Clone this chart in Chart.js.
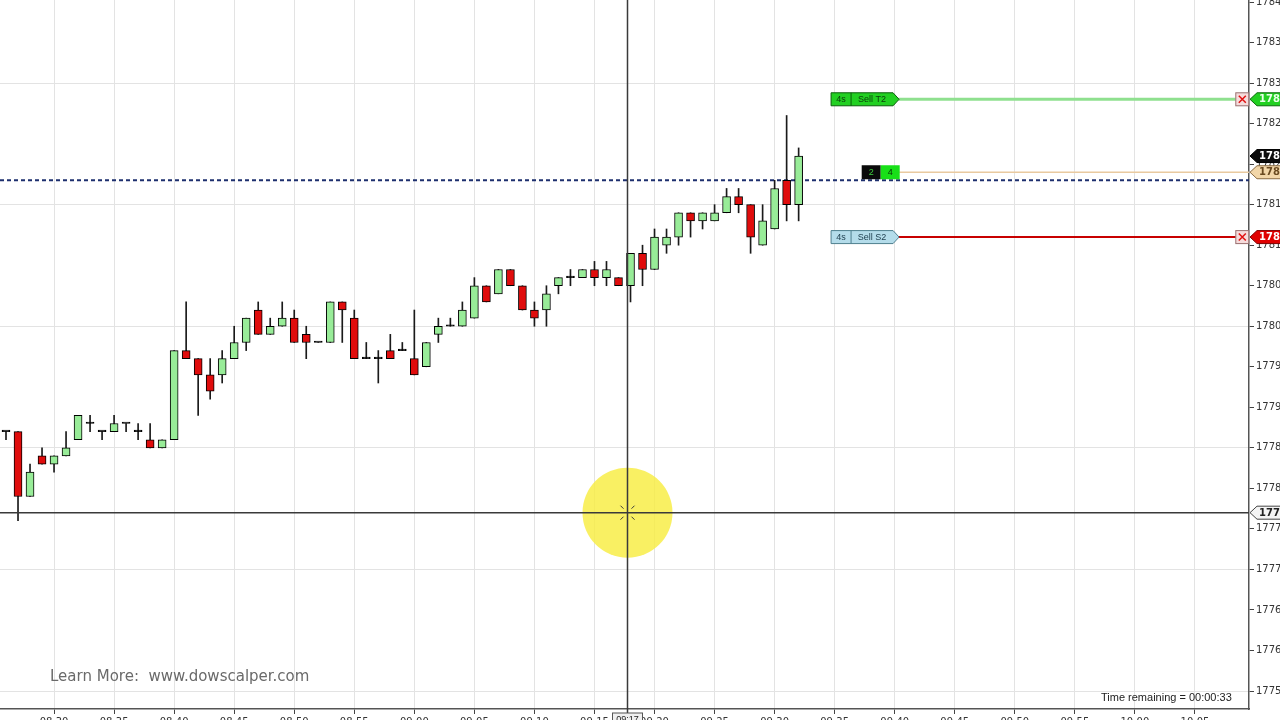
<!DOCTYPE html>
<html><head><meta charset="utf-8">
<script src="https://cdn.jsdelivr.net/npm/chart.js@4.4.1/dist/chart.umd.min.js"></script>
<style>
html,body{margin:0;padding:0;background:#fff;overflow:hidden;width:1280px;height:720px;}
#wrap{position:absolute;left:0;top:0;width:1300px;height:740px;}
canvas{display:block;}
</style></head><body>
<div id="wrap"><canvas id="c" width="1300" height="740"></canvas></div>
<script>
// ---- data (1-minute bars) ----
const opens  = [17787,17787,17779,17784,17783,17784,17786,17788,17787,17787,17788,17787,17786,17785,17786,17797,17796,17794,17794,17796,17798,17802,17799,17800,17801,17799,17798,17798,17803,17801,17796,17796,17797,17797,17796,17795,17799,17800,17800,17801,17805,17804,17807,17805,17802,17802,17805,17806,17806,17807,17806,17806,17805,17809,17807,17810,17811,17814,17813,17813,17814,17816,17815,17810,17812,17818,17815];
const highs  = [17787,17787,17783,17785,17784,17787,17789,17789,17787,17789,17788,17788,17788,17786,17797,17803,17796,17796,17797,17800,17801,17803,17801,17803,17802,17800,17798,17803,17803,17802,17798,17797,17799,17798,17802,17798,17801,17801,17803,17806,17805,17807,17807,17805,17803,17805,17806,17807,17807,17808,17808,17806,17809,17810,17812,17812,17814,17814,17814,17815,17817,17817,17815,17815,17818,17826,17822];
const lows   = [17786,17776,17779,17783,17782,17784,17786,17787,17786,17787,17787,17786,17785,17785,17786,17796,17789,17791,17793,17796,17797,17799,17799,17800,17798,17796,17798,17798,17798,17796,17796,17793,17796,17797,17794,17795,17798,17800,17800,17801,17803,17804,17805,17802,17800,17800,17804,17805,17806,17805,17805,17805,17803,17805,17807,17809,17810,17811,17812,17813,17814,17814,17809,17810,17812,17813,17813];
const closes = [17787,17779,17782,17783,17784,17785,17789,17788,17787,17788,17788,17787,17785,17786,17797,17796,17794,17792,17796,17798,17801,17799,17800,17801,17798,17798,17798,17803,17802,17796,17796,17796,17796,17797,17794,17798,17800,17800,17802,17805,17803,17807,17805,17802,17801,17804,17806,17806,17807,17806,17807,17805,17809,17807,17811,17811,17814,17813,17814,17814,17816,17815,17811,17813,17817,17815,17821];
const gridTimes = ["08:30","08:35","08:40","08:45","08:50","08:55","09:00","09:05","09:10","09:15","09:20","09:25","09:30","09:35","09:40","09:45","09:50","09:55","10:00","10:05"];
const slotCount = 104;
const yMin = 17752.78, yMax = 17840.25;
const yTickStep = 5, yGridStep = 15, yGridBase = 17755;
const targetPrice = 17828, entryPrice = 17819, stopPrice = 17811, dashedPrice = 17818, lastPrice = 17821, cursorPrice = 17777;
const cursorIndex = 51.75, cursorTime = "09:17";
const entryQty = "2", posQty = "4";
const targetLabel = ["4s","Sell T2"], stopLabel = ["4s","Sell S2"];

// categories: one slot per bar, time labels every 5 bars
const categories = [];
for (let i = 0; i < slotCount; i++) {
  const k = (i - 4) / 5;
  categories.push(Number.isInteger(k) && k >= 0 && k < gridTimes.length ? gridTimes[k] : '');
}
const bodies = opens.map((o, i) => [Math.min(o, closes[i]), Math.max(o, closes[i])]);
const wicks = lows.map((l, i) => [l, highs[i]]);
const bodyColors = opens.map((o, i) => closes[i] > o ? '#98ec98' : (closes[i] < o ? '#e00c0c' : '#000'));

function pentRight(ctx, x, y, w, h, tip) {
  ctx.beginPath();
  ctx.moveTo(x, y - h/2); ctx.lineTo(x + w, y - h/2); ctx.lineTo(x + w + tip, y);
  ctx.lineTo(x + w, y + h/2); ctx.lineTo(x, y + h/2); ctx.closePath();
}
function pentLeft(ctx, x, y, w, h, tip) {
  ctx.beginPath();
  ctx.moveTo(x, y); ctx.lineTo(x + tip, y - h/2); ctx.lineTo(x + w, y - h/2);
  ctx.lineTo(x + w, y + h/2); ctx.lineTo(x + tip, y + h/2); ctx.closePath();
}

const overlay = {
  id: 'overlay',
  beforeDatasetsDraw(chart) {
    const {ctx, chartArea: a, scales: {x, y}} = chart;
    ctx.save();
    const xs = x.getPixelForValue(74.3), xe = x.getPixelForValue(102.4);
    ctx.strokeStyle = '#8fe08f'; ctx.lineWidth = 3;
    ctx.beginPath(); ctx.moveTo(xs, y.getPixelForValue(targetPrice)); ctx.lineTo(xe, y.getPixelForValue(targetPrice)); ctx.stroke();
    ctx.strokeStyle = '#c80000'; ctx.lineWidth = 2;
    ctx.beginPath(); ctx.moveTo(xs, y.getPixelForValue(stopPrice)); ctx.lineTo(xe, y.getPixelForValue(stopPrice)); ctx.stroke();
    ctx.strokeStyle = '#e9caa0'; ctx.lineWidth = 1.5;
    ctx.beginPath(); ctx.moveTo(xs, y.getPixelForValue(entryPrice)); ctx.lineTo(a.right, y.getPixelForValue(entryPrice)); ctx.stroke();
    ctx.strokeStyle = '#1d2f6e'; ctx.lineWidth = 2; ctx.setLineDash([4, 3]);
    const yd = y.getPixelForValue(dashedPrice);
    ctx.beginPath(); ctx.moveTo(a.left, yd); ctx.lineTo(a.right, yd); ctx.stroke();
    ctx.restore();
  },
  afterDatasetsDraw(chart) {
    const {ctx, chartArea: a, scales: {x, y}} = chart;
    ctx.save();
    const cx = x.getPixelForValue(cursorIndex), cy = y.getPixelForValue(cursorPrice);
    ctx.fillStyle = 'rgba(247,236,60,0.8)';
    ctx.beginPath(); ctx.arc(cx, cy, 45, 0, Math.PI * 2); ctx.fill();
    ctx.strokeStyle = '#3a3a3a'; ctx.lineWidth = 1.5;
    ctx.beginPath(); ctx.moveTo(cx, a.top); ctx.lineTo(cx, a.bottom + 6); ctx.stroke();
    ctx.beginPath(); ctx.moveTo(a.left, cy); ctx.lineTo(a.right, cy); ctx.stroke();
    ctx.lineWidth = 1;
    [[-1,-1],[1,-1],[-1,1],[1,1]].forEach(([dx, dy]) => {
      ctx.beginPath(); ctx.moveTo(cx + dx*4, cy + dy*4); ctx.lineTo(cx + dx*7, cy + dy*7); ctx.stroke();
    });
    ctx.font = '9px "Liberation Sans"'; ctx.textBaseline = 'middle';
    const lx = x.getPixelForValue(68.7);
    const drawTag = (price, fill, stroke, txt, txtColor) => {
      const yy = y.getPixelForValue(price);
      ctx.fillStyle = fill; ctx.strokeStyle = stroke; ctx.lineWidth = 1;
      pentRight(ctx, lx, yy, 62, 13, 6); ctx.fill(); ctx.stroke();
      ctx.beginPath(); ctx.moveTo(lx + 20, yy - 6.5); ctx.lineTo(lx + 20, yy + 6.5); ctx.stroke();
      ctx.fillStyle = txtColor; ctx.textAlign = 'center';
      ctx.fillText(txt[0], lx + 10, yy + 0.5); ctx.fillText(txt[1], lx + 41, yy + 0.5);
    };
    drawTag(targetPrice, '#22d022', '#0b5e0b', targetLabel, '#0a3a0a');
    drawTag(stopPrice, '#b4dcea', '#4f7f8f', stopLabel, '#1c3c4c');
    const ey = y.getPixelForValue(entryPrice), px0 = x.getPixelForValue(71.25);
    ctx.fillStyle = '#0a0a0a'; ctx.fillRect(px0, ey - 7, 19, 14);
    ctx.fillStyle = '#18e018'; ctx.fillRect(px0 + 19, ey - 7, 19, 14);
    ctx.fillStyle = '#40d040'; ctx.textAlign = 'center'; ctx.fillText(entryQty, px0 + 9.5, ey + 0.5);
    ctx.fillStyle = '#063006'; ctx.fillText(posQty, px0 + 28.5, ey + 0.5);
    [targetPrice, stopPrice].forEach(p => {
      const yy = y.getPixelForValue(p), bx = x.getPixelForValue(102.4);
      ctx.fillStyle = '#f6dcdc'; ctx.strokeStyle = '#9a7070'; ctx.lineWidth = 1;
      ctx.fillRect(bx, yy - 6.5, 13, 13); ctx.strokeRect(bx, yy - 6.5, 13, 13);
      ctx.strokeStyle = '#e01010'; ctx.lineWidth = 1.5;
      ctx.beginPath(); ctx.moveTo(bx + 3, yy - 3.5); ctx.lineTo(bx + 10, yy + 3.5);
      ctx.moveTo(bx + 10, yy - 3.5); ctx.lineTo(bx + 3, yy + 3.5); ctx.stroke();
    });
    ctx.font = 'bold 10px "DejaVu Sans"'; ctx.textAlign = 'left';
    const mark = (price, fill, stroke, tcol) => {
      const yy = y.getPixelForValue(price);
      ctx.fillStyle = fill; ctx.strokeStyle = stroke; ctx.lineWidth = 1;
      pentLeft(ctx, a.right + 1, yy, 50, 13, 7); ctx.fill(); ctx.stroke();
      ctx.fillStyle = tcol; ctx.fillText(String(price), a.right + 10, yy + 0.5);
    };
    mark(targetPrice, '#22d022', '#0b6a0b', '#e8ffe8');
    mark(lastPrice, '#0c0c0c', '#000', '#ffffff');
    mark(entryPrice, '#f2d6a8', '#8a6a40', '#6a4a20');
    mark(stopPrice, '#e00000', '#800000', '#ffffff');
    mark(cursorPrice, '#f4f4f4', '#444', '#222');
    ctx.font = '9px "Liberation Sans"';
    ctx.fillStyle = '#f0f0f0'; ctx.strokeStyle = '#555'; ctx.lineWidth = 1;
    ctx.fillRect(cx - 15, a.bottom + 4, 30, 14); ctx.strokeRect(cx - 15, a.bottom + 4, 30, 14);
    ctx.fillStyle = '#222'; ctx.textAlign = 'center'; ctx.fillText(cursorTime, cx, a.bottom + 11);
    ctx.textAlign = 'left'; ctx.textBaseline = 'middle';
    ctx.font = '15px "DejaVu Sans"'; ctx.fillStyle = '#6a6a6a';
    ctx.fillText('Learn More:  www.dowscalper.com', 50, 677);
    ctx.font = '11px "Liberation Sans"'; ctx.fillStyle = '#222';
    ctx.fillText('Time remaining = 00:00:33', 1101, 698);
    ctx.restore();
  }
};

new Chart(document.getElementById('c'), {
  type: 'bar',
  data: {
    labels: categories,
    datasets: [
      { label: 'body', data: bodies, backgroundColor: bodyColors, borderColor: '#000', borderWidth: 1,
        borderSkipped: false, barThickness: 8, minBarLength: 1.5, grouped: false, order: 1 },
      { label: 'wick', data: wicks, backgroundColor: '#1a1a1a', borderWidth: 0,
        barThickness: 1, grouped: false, order: 2 }
    ]
  },
  options: {
    responsive: false, animation: false,
    layout: { padding: 0, autoPadding: false },
    plugins: { legend: { display: false }, tooltip: { enabled: false } },
    scales: {
      x: {
        type: 'category', offset: true,
        grid: { offset: false, lineWidth: 1, tickLength: 5,
          color: c => categories[c.index] ? '#e3e3e3' : 'rgba(0,0,0,0)',
          tickColor: c => categories[c.index] ? '#444' : 'rgba(0,0,0,0)' },
        border: { color: '#555', width: 1.5 },
        ticks: { autoSkip: false, maxRotation: 0, minRotation: 0, padding: 2, color: '#333',
          font: { size: 10, family: 'DejaVu Sans' }, callback: (v, i) => categories[i] },
        afterFit: s => { s.height = 31; s.paddingLeft = 0; s.paddingRight = 0; }
      },
      y: {
        position: 'right', min: yMin, max: yMax,
        grid: { lineWidth: 1, tickLength: 5, tickColor: '#444',
          color: c => (c.tick && (c.tick.value - yGridBase) % yGridStep === 0) ? '#e3e3e3' : 'rgba(0,0,0,0)' },
        border: { color: '#555', width: 1.5 },
        ticks: { stepSize: yTickStep, includeBounds: false, padding: 2, color: '#333',
          font: { size: 10, family: 'DejaVu Sans' }, callback: v => String(v) },
        afterFit: s => { s.width = 51; s.paddingTop = 0; s.paddingBottom = 0; }
      }
    }
  },
  plugins: [overlay]
});
</script>
</body></html>
